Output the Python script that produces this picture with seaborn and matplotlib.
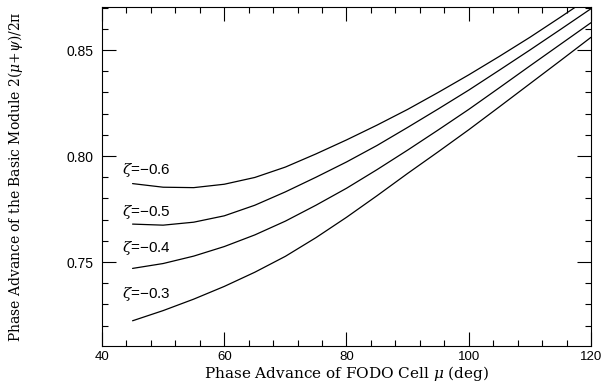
import numpy as np
import pandas as pd
import seaborn as sns
import matplotlib.pyplot as plt
from matplotlib.ticker import MultipleLocator

# ---------------------------------------------------------------
# DATA
# ---------------------------------------------------------------
mu = [45, 50, 55, 60, 65, 70, 75, 80, 85, 90, 95, 100, 105, 110, 115, 120]

zeta_06 = [0.7870, 0.7853, 0.7851, 0.7867, 0.7899, 0.7948, 0.8010, 0.8076,
           0.8146, 0.8220, 0.8300, 0.8383, 0.8470, 0.8560, 0.8655, 0.8752]
zeta_05 = [0.7679, 0.7674, 0.7688, 0.7718, 0.7768, 0.7831, 0.7900, 0.7972,
           0.8050, 0.8135, 0.8222, 0.8311, 0.8405, 0.8500, 0.8597, 0.8695]
zeta_04 = [0.7470, 0.7493, 0.7528, 0.7573, 0.7628, 0.7693, 0.7768, 0.7848,
           0.7936, 0.8028, 0.8123, 0.8220, 0.8322, 0.8425, 0.8527, 0.8629]
zeta_03 = [0.7223, 0.7271, 0.7325, 0.7385, 0.7452, 0.7527, 0.7615, 0.7711,
           0.7813, 0.7918, 0.8020, 0.8124, 0.8232, 0.8341, 0.8450, 0.8560]

curve_labels = ["\u03b6=\u22120.6", "\u03b6=\u22120.5", "\u03b6=\u22120.4", "\u03b6=\u22120.3"]
label_y = [0.7934, 0.7736, 0.7566, 0.7349]

series = [zeta_06, zeta_05, zeta_04, zeta_03]
df = pd.concat([
    pd.DataFrame({"mu": mu, "phase": vals, "zeta": lab})
    for vals, lab in zip(series, curve_labels)
])

# ---------------------------------------------------------------
# PLOT
# ---------------------------------------------------------------
sns.set_style("ticks")
plt.rcParams["font.family"] = ["Liberation Sans", "DejaVu Sans"]
plt.rcParams["mathtext.fontset"] = "dejavuserif"
plt.rcParams["text.color"] = "black"
plt.rcParams["axes.labelcolor"] = "black"

fig = plt.figure(figsize=(6.16, 3.83), dpi=100)
ax = fig.add_axes([0.1656, 0.0966, 0.7938, 0.8851])

sns.lineplot(data=df, x="mu", y="phase", hue="zeta", units="zeta",
             estimator=None, palette=["black"] * 4, linewidth=0.9,
             legend=False, ax=ax)

for lab, y in zip(curve_labels, label_y):
    ax.text(43.3, y, lab.replace("\u03b6", r"$\zeta$"), fontsize=11,
            va="center", ha="left", color="black")

ax.set_xlim(40, 120)
ax.set_ylim(0.7104, 0.8703)
ax.xaxis.set_major_locator(MultipleLocator(20))
ax.xaxis.set_minor_locator(MultipleLocator(4))
ax.yaxis.set_major_locator(MultipleLocator(0.05))
ax.yaxis.set_minor_locator(MultipleLocator(0.01))
ax.yaxis.set_major_formatter(plt.FormatStrFormatter("%.2f"))

ax.tick_params(which="both", direction="in", top=True, right=True,
               color="black", width=0.8, labelsize=10, labelcolor="black")
ax.tick_params(which="major", length=10)
ax.tick_params(which="minor", length=4.5)
ax.tick_params(axis="x", pad=3.5, labelsize=9.5)
ax.tick_params(axis="y", pad=6)
for sp in ax.spines.values():
    sp.set_linewidth(0.8)
    sp.set_color("black")

ax.set_xlabel("Phase Advance of FODO Cell $\\mu$ (deg)",
              family="DejaVu Serif", fontsize=11, labelpad=0.5)
ax.set_ylabel("Phase Advance of the Basic Module 2($\\mu$+$\\psi$)/2\u03c0",
              family="DejaVu Serif", fontsize=10, labelpad=30)

fig.savefig("out.png", dpi=100)
